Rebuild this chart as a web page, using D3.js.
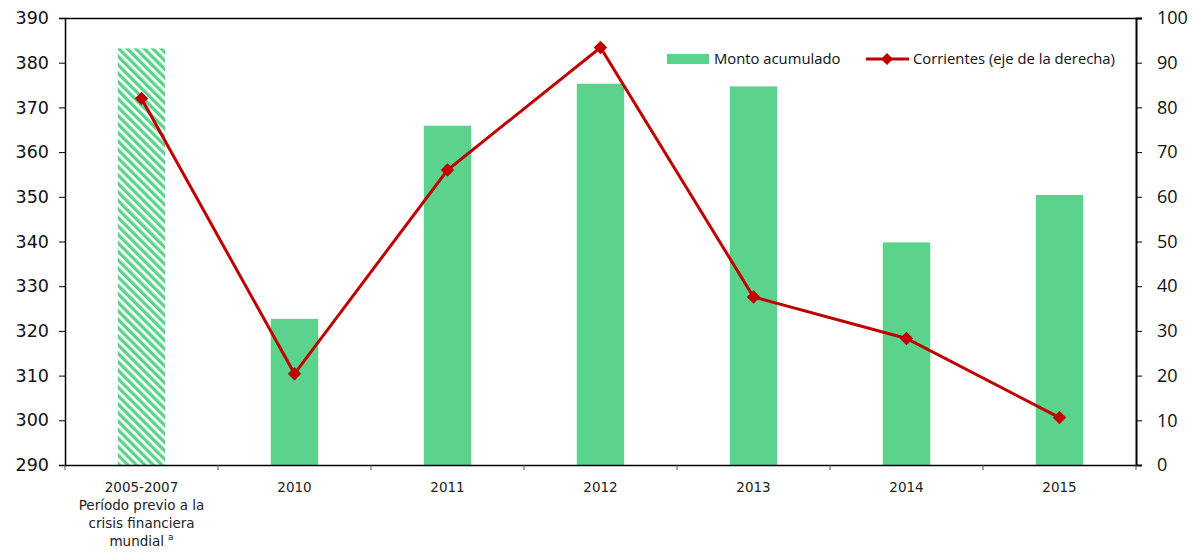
<!DOCTYPE html>
<html><head><meta charset="utf-8">
<script src="https://cdn.jsdelivr.net/npm/d3@7"></script>
<style>body{margin:0;background:#fff}</style>
</head><body>
<svg id="c" width="1201" height="552"></svg>
<script>
const categories = ["2005-2007", "2010", "2011", "2012", "2013", "2014", "2015"];
const categoryLabels = [["2005-2007","Período previo a la","crisis financiera","mundial"], ["2010"], ["2011"], ["2012"], ["2013"], ["2014"], ["2015"]];
const montoAcumulado = [383.2, 322.7, 365.9, 375.3, 374.7, 339.8, 350.4];
const corrientes = [82.0, 20.4, 66.0, 93.4, 37.6, 28.3, 10.6];
const leftTicks = [290, 300, 310, 320, 330, 340, 350, 360, 370, 380, 390];
const rightTicks = [0, 10, 20, 30, 40, 50, 60, 70, 80, 90, 100];
const seriesNames = ["Monto acumulado", "Corrientes (eje de la derecha)"];

const svg = d3.select("#c");
const L = 65, R = 1136, T = 18, B = 465;
const barColor = "#5cd38c", lineColor = "#c00000";

const defs = svg.append("defs");
const pat = defs.append("pattern").attr("id","hatch").attr("patternUnits","userSpaceOnUse")
  .attr("width",6).attr("height",6).attr("patternTransform","rotate(-45)");
pat.append("rect").attr("width",6).attr("height",6).attr("fill","#ffffff");
pat.append("rect").attr("width",3.4).attr("height",6).attr("fill",barColor);

const x = d3.scaleBand().domain(categories).range([L, R]).paddingInner(0.69).paddingOuter(0.345);
const yL = d3.scaleLinear().domain([290, 390]).range([B, T]);
const yR = d3.scaleLinear().domain([0, 100]).range([B, T]);

// bars
svg.append("g").selectAll("rect").data(categories).join("rect")
  .attr("x", d => x(d)).attr("width", x.bandwidth())
  .attr("y", (d,i) => yL(montoAcumulado[i]))
  .attr("height", (d,i) => yL(290) - yL(montoAcumulado[i]))
  .attr("fill", (d,i) => i === 0 ? "url(#hatch)" : barColor);

// frame top
svg.append("line").attr("x1", L).attr("x2", R+6).attr("y1", T+0.5).attr("y2", T+0.5).attr("stroke","#000").attr("stroke-width",1.3);

// left axis
const gl = svg.append("g").attr("transform",`translate(${L},0)`)
  .call(d3.axisLeft(yL).tickValues(leftTicks).tickSize(6).tickPadding(10).tickFormat(d3.format("d")));
gl.select(".domain").attr("stroke","#000").attr("stroke-width",1.5);
gl.selectAll("text").attr("font-family","'DejaVu Sans', Verdana, sans-serif").attr("font-size",17.5).attr("fill","#111");

// right axis
const gr = svg.append("g").attr("transform",`translate(${R},0)`)
  .call(d3.axisRight(yR).tickValues(rightTicks).tickSize(6).tickPadding(15).tickFormat(d3.format("d")));
gr.select(".domain").attr("stroke","#000").attr("stroke-width",2);
gr.selectAll("text").attr("font-family","'Open Sans', Lato, sans-serif").attr("font-size",18).attr("fill","#111");

// bottom axis
svg.append("line").attr("x1", L).attr("x2", R).attr("y1", B+0.5).attr("y2", B+0.5).attr("stroke","#000").attr("stroke-width",1.3);
const bounds = d3.range(categories.length + 1).map(i => L + i * (R - L) / categories.length);
svg.append("g").selectAll("line").data(bounds).join("line")
  .attr("x1", d => d).attr("x2", d => d).attr("y1", B).attr("y2", B + 5)
  .attr("stroke","#555").attr("stroke-width",1);

const xl = svg.append("g").selectAll("text").data(categories).join("text")
  .attr("x", d => x(d) + x.bandwidth()/2).attr("y", B + 27)
  .attr("text-anchor","middle").attr("font-family","'DejaVu Sans', Verdana, sans-serif")
  .attr("font-size",13.5).attr("fill","#222");
xl.each(function(d,i){
  const t = d3.select(this);
  categoryLabels[i].forEach((s,j) => {
    t.append("tspan").attr("x", x(d) + x.bandwidth()/2).attr("dy", j === 0 ? 0 : 18).text(s);
    if (s === "mundial") {
      t.append("tspan").attr("dx", 4).attr("dy", -6).attr("font-size", 9).text("a");
    }
  });
});

// line
const line = d3.line().x((d,i) => x(categories[i]) + x.bandwidth()/2).y(d => yR(d));
svg.append("path").datum(corrientes).attr("d", line).attr("fill","none")
  .attr("stroke", lineColor).attr("stroke-width", 3);
svg.append("g").selectAll("path").data(corrientes).join("path")
  .attr("transform", (d,i) => `translate(${x(categories[i]) + x.bandwidth()/2},${yR(d)}) rotate(45)`)
  .attr("d", d3.symbol().type(d3.symbolSquare).size(90)).attr("fill", lineColor);

// legend
const lg = svg.append("g").attr("font-family","'Open Sans', Lato, sans-serif").attr("font-size",14.8).attr("fill","#111");
lg.append("rect").attr("x", 667).attr("y", 54).attr("width", 42).attr("height", 10).attr("fill", barColor);
lg.append("text").attr("x", 714).attr("y", 64).text(seriesNames[0]);
lg.append("line").attr("x1", 866).attr("x2", 909).attr("y1", 59).attr("y2", 59).attr("stroke", lineColor).attr("stroke-width", 3);
lg.append("path").attr("transform","translate(887,59) rotate(45)").attr("d", d3.symbol().type(d3.symbolSquare).size(70)).attr("fill", lineColor);
lg.append("text").attr("x", 913).attr("y", 64).text(seriesNames[1]);
</script>
</body></html>
